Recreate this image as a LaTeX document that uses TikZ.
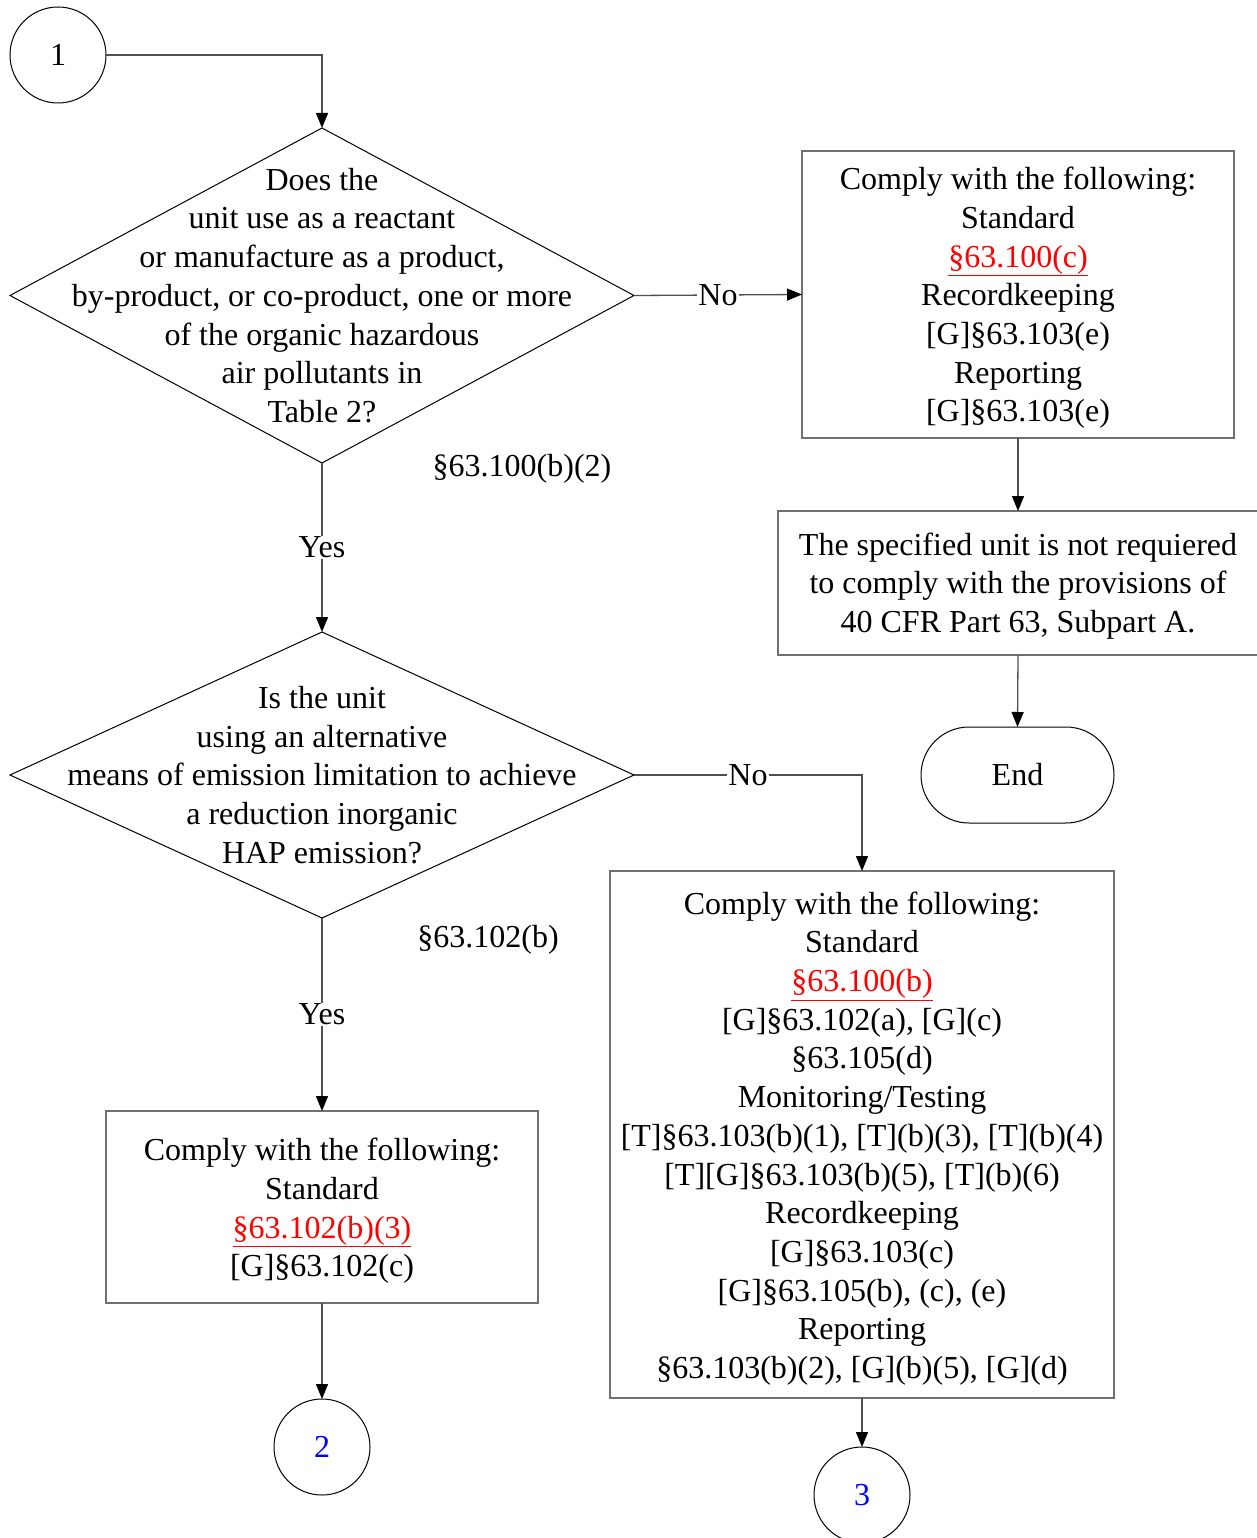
\documentclass[tikz,border=0pt]{standalone}
\usepackage{fontspec}
\setmainfont{Liberation Serif}
\usetikzlibrary{shapes.geometric,arrows.meta}
\definecolor{boxgray}{HTML}{707070}
\definecolor{linegray}{HTML}{505050}
\begin{document}
\begin{tikzpicture}[x=1pt,y=-1pt,
  txt/.style={font=\fontsize{32}{38.7}\selectfont, align=center, inner sep=0pt, outer sep=0pt},
  boxnode/.style={draw=boxgray, line width=1.3pt, rectangle, inner sep=0pt, outer sep=0pt},
  dia/.style={draw=black, line width=1pt, diamond, inner sep=0pt, outer sep=0pt},
  circ/.style={txt, draw=black, line width=1pt, circle, minimum size=96pt},
  conn/.style={draw=linegray, line width=1.3pt, -{Triangle[length=15pt,width=12pt,color=black]}},
  lbl/.style={txt, fill=white, inner sep=1pt}]
\useasboundingbox (0,0) rectangle (1256,1538);

% circles
\node[circ] (c1) at (58,55) {1};
\node[circ, text=blue] (c2) at (322,1447) {2};
\node[circ, text=blue] (c3) at (862,1495) {3};

% diamonds
\node[dia, minimum width=624pt, minimum height=335pt] (d1) at (322,295.5) {};
\node[txt] (d1t) at (322,295.5) {Does the\\unit use as a reactant\\or manufacture as a product,\\by-product, or co-product, one or more\\of the organic hazardous\\air pollutants in\\Table 2?};
\node[dia, minimum width=624pt, minimum height=286pt] (d2) at (322,775) {};
\node[txt] (d2t) at (322,775) {Is the unit\\using an alternative\\means of emission limitation to achieve\\a reduction inorganic\\HAP emission?};

% boxes
\node[boxnode, minimum width=432pt, minimum height=287pt] (b1) at (1018,294.5) {};
\node[txt] (b1t) at (1018,298) {Comply with the following:\\Standard\\\textcolor{red}{\underline{§63.100(c)}}\\Recordkeeping\\{[G]§63.103(e)}\\Reporting\\{[G]§63.103(e)}};
\node[boxnode, minimum width=480pt, minimum height=144pt] (b2) at (1018,583) {};
\node[txt] (b2t) at (1018,586) {The specified unit is not requiered\\to comply with the provisions of\\40 CFR Part 63, Subpart A.};
\node[txt, draw=black, line width=1pt, minimum width=193pt, minimum height=96pt, rounded corners=48pt] (end) at (1017.5,775) {End};
\node[boxnode, minimum width=504pt, minimum height=527pt] (b3) at (862,1134.5) {};
\node[txt] (b3t) at (862,1138.5) {Comply with the following:\\Standard\\\textcolor{red}{\underline{§63.100(b)}}\\{[G]§63.102(a), [G](c)}\\§63.105(d)\\Monitoring/Testing\\{[T]§63.103(b)(1), [T](b)(3), [T](b)(4)}\\{[T][G]§63.103(b)(5), [T](b)(6)}\\Recordkeeping\\{[G]§63.103(c)}\\{[G]§63.105(b), (c), (e)}\\Reporting\\{§63.103(b)(2), [G](b)(5), [G](d)}};
\node[boxnode, minimum width=432pt, minimum height=192pt] (b4) at (322,1207) {};
\node[txt] (b4t) at (322,1211) {Comply with the following:\\Standard\\\textcolor{red}{\underline{§63.102(b)(3)}}\\{[G]§63.102(c)}};

% free labels
\node[txt] (r1) at (522,469) {§63.100(b)(2)};
\node[txt] (r2) at (488,940) {§63.102(b)};

% connectors
\draw[conn] (c1.east) -| (d1.north);
\draw[conn] (d1.east) -- node[lbl] {No} (b1.west);
\draw[conn] (d1.south) -- node[lbl] {Yes} (d2.north);
\draw[conn] (b1.south) -- (b2.north);
\draw[conn] (b2.south) -- (end.north);
\draw[conn] (d2.east) -| node[lbl, pos=0.25] {No} (b3.north);
\draw[conn] (d2.south) -- node[lbl] {Yes} (b4.north);
\draw[conn] (b4.south) -- (c2.north);
\draw[conn] (b3.south) -- (c3.north);
\end{tikzpicture}
\end{document}
